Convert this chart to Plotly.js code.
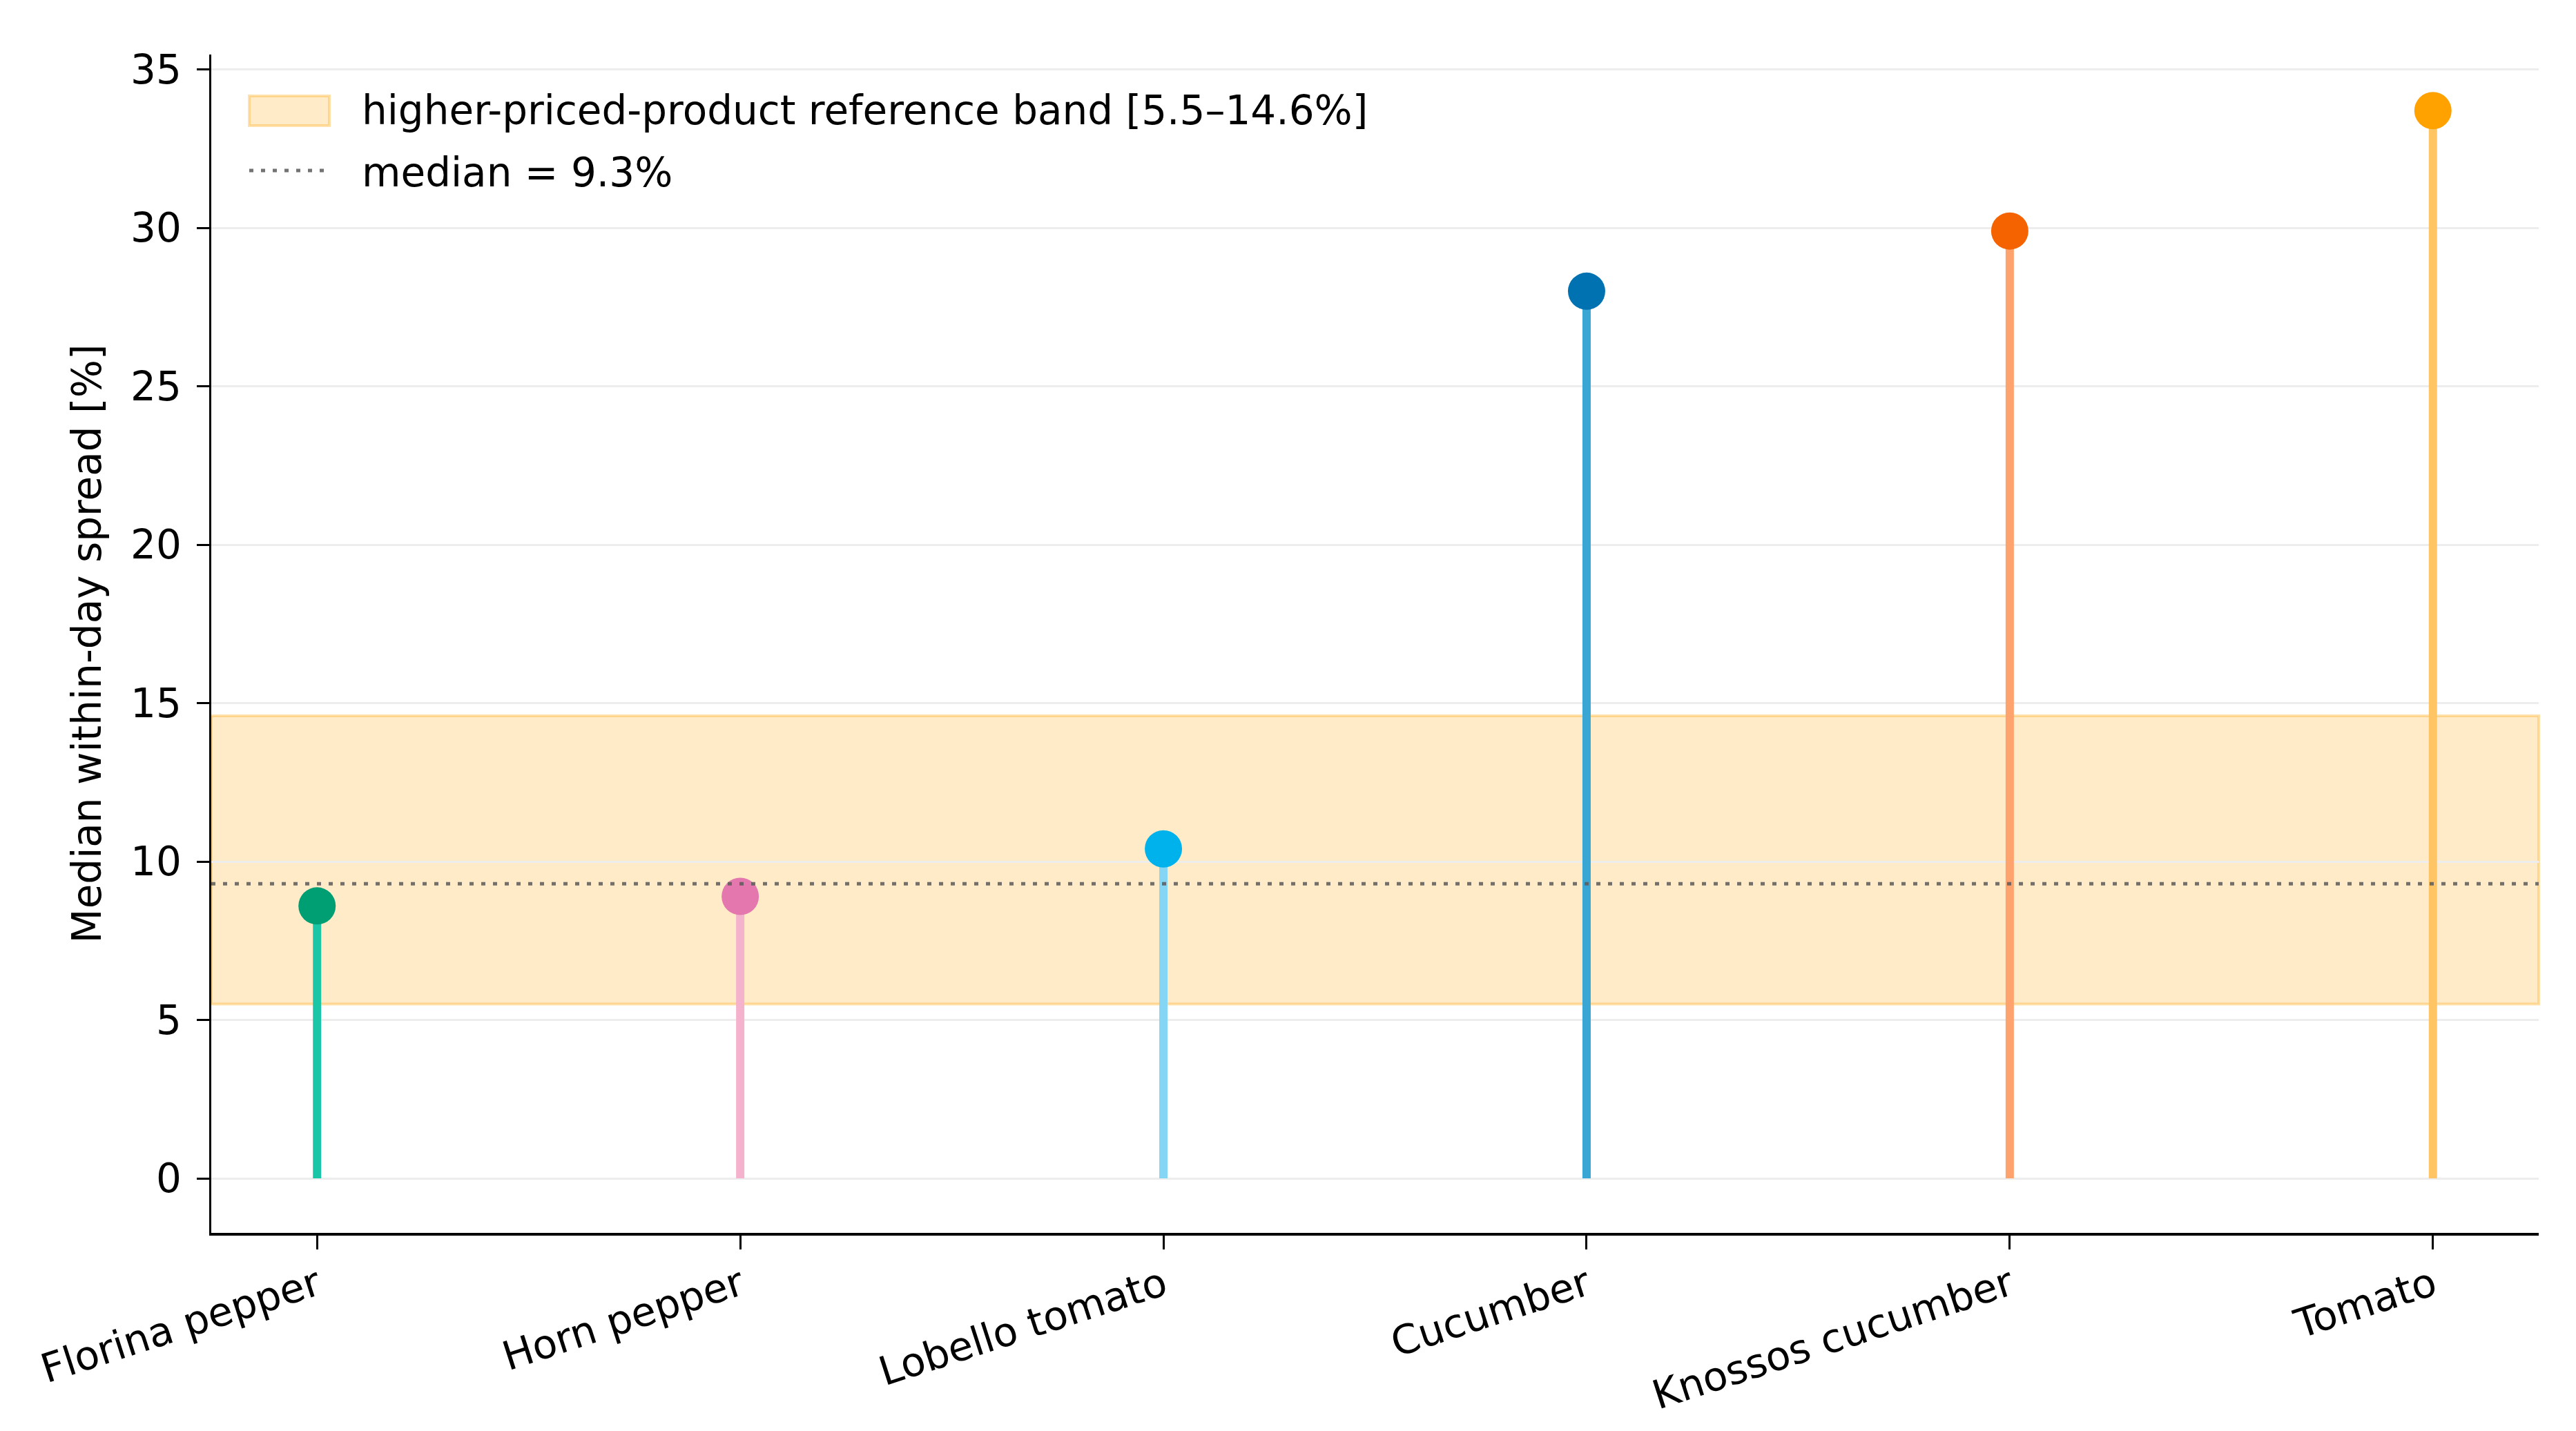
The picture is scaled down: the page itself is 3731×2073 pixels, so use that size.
<!DOCTYPE html>
<html>
<head>
<meta charset="utf-8">
<script src="https://cdn.plot.ly/plotly-3.0.1.min.js"></script>
<style>html,body{margin:0;padding:0;background:#fff;}#chart{width:3731px;height:2073px;}</style>
</head>
<body>
<div id="chart"></div>
<script>
// ---- data ----
const categories = ['Florina pepper', 'Horn pepper', 'Lobello tomato', 'Cucumber', 'Knossos cucumber', 'Tomato'];
const values = [8.6, 8.9, 10.4, 28.0, 29.9, 33.7];
const markerColors = ['#009E73', '#E377AE', '#00B2EC', '#0072B2', '#F56300', '#FFA200'];
const stemColors = ['#1BC6A6', '#F5B2CD', '#85D5F5', '#3AA6D3', '#FFA36E', '#FFC564'];
const bandLow = 5.5;
const bandHigh = 14.6;
const medianValue = 9.3;
const yTicks = [0, 5, 10, 15, 20, 25, 30, 35];
const bandLabel = 'higher-priced-product reference band [5.5\u201314.6%]';
const medianLabel = 'median = 9.3%';
const yTitle = 'Median within-day spread [%]';

// ---- layout geometry (pixels) ----
const W = 3731, H = 2073;
const L = 306, R = 54, T = 79, B = 287;
const plotW = W - L - R, plotH = H - T - B;
const px = x => (x - L) / plotW;
const py = y => (H - B - y) / plotH;
const FONT = 'DejaVu Sans';
const FS = 58;

const traces = [];
// stems
categories.forEach((c, i) => {
  traces.push({
    type: 'scatter', mode: 'lines',
    x: [c, c], y: [0, values[i]],
    line: {color: stemColors[i], width: 12},
    showlegend: false, hoverinfo: 'skip'
  });
});
// markers
traces.push({
  type: 'scatter', mode: 'markers',
  x: categories, y: values,
  marker: {color: markerColors, size: 54, line: {width: 0}},
  showlegend: false
});

const shapes = [
  // reference band
  {type: 'rect', xref: 'paper', yref: 'y', x0: 0, x1: 1, y0: bandLow, y1: bandHigh,
   fillcolor: 'rgba(255,165,0,0.22)', line: {color: 'rgba(255,170,20,0.35)', width: 4}, layer: 'below'},
  // median line
  {type: 'line', xref: 'paper', yref: 'y', x0: 0, x1: 1, y0: medianValue, y1: medianValue,
   line: {color: 'rgba(90,90,90,0.85)', width: 5, dash: '6px,11px'}, layer: 'above'},
  // legend swatches
  {type: 'rect', xref: 'paper', yref: 'paper', x0: px(361), x1: px(477), y0: py(182), y1: py(139),
   fillcolor: 'rgba(255,165,0,0.22)', line: {color: 'rgba(255,170,20,0.35)', width: 4}},
  {type: 'line', xref: 'paper', yref: 'paper', x0: px(361), x1: px(470), y0: py(247), y1: py(247),
   line: {color: 'rgba(90,90,90,0.85)', width: 5, dash: '6px,11px'}}
];

const annotations = [
  {xref: 'paper', yref: 'paper', x: px(522), y: py(160), xanchor: 'left', yanchor: 'middle',
   text: bandLabel, showarrow: false, font: {family: FONT, size: FS, color: '#000'}},
  {xref: 'paper', yref: 'paper', x: px(522), y: py(250), xanchor: 'left', yanchor: 'middle',
   text: medianLabel, showarrow: false, font: {family: FONT, size: FS, color: '#000'}}
];

const layout = {
  width: W, height: H,
  margin: {l: L, r: R, t: T, b: B, pad: 0},
  paper_bgcolor: '#fff', plot_bgcolor: '#fff',
  font: {family: FONT, size: FS, color: '#000'},
  showlegend: false,
  xaxis: {
    type: 'category', categoryorder: 'array', categoryarray: categories,
    range: [-0.25, 5.25],
    showline: true, linecolor: '#000', linewidth: 3.5,
    ticks: 'outside', ticklen: 20, tickwidth: 3, tickcolor: '#000',
    showgrid: false, zeroline: false,
    tickangle: -18, tickfont: {family: FONT, size: FS, color: '#000'},
    ticklabelstandoff: -4
  },
  yaxis: {
    range: [-1.72, 35.47],
    tickvals: yTicks, ticktext: yTicks.map(String),
    showline: true, linecolor: '#000', linewidth: 3.5,
    ticks: 'outside', ticklen: 18, tickwidth: 3, tickcolor: '#000',
    showgrid: true, gridcolor: '#EDEDED', gridwidth: 3,
    zeroline: false,
    tickfont: {family: FONT, size: FS, color: '#000'},
    ticklabelstandoff: 10,
    title: {text: yTitle, font: {family: FONT, size: FS, color: '#000'}, standoff: 25}
  },
  shapes: shapes,
  annotations: annotations
};

Plotly.newPlot('chart', traces, layout, {staticPlot: true, displayModeBar: false});
</script>
</body>
</html>
